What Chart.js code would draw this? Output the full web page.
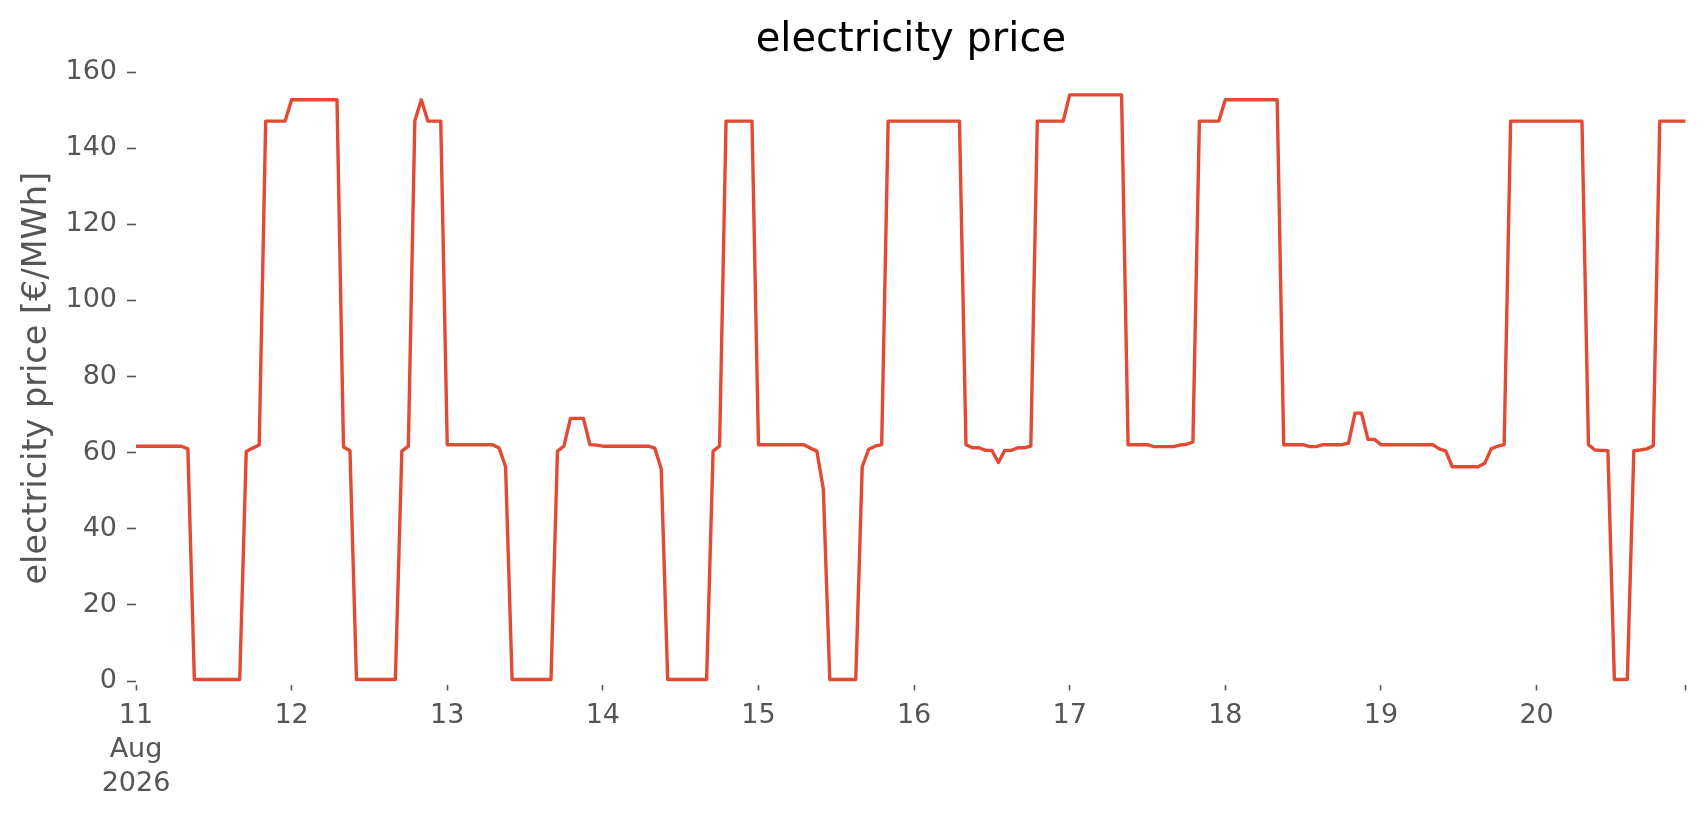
<!DOCTYPE html>
<html>
<head>
<meta charset="utf-8">
<title>electricity price</title>
<script src="https://cdn.jsdelivr.net/npm/chart.js@4.4.1/dist/chart.umd.min.js"></script>
<style>
  html, body { margin: 0; padding: 0; background: #fff; }
  #wrap { width: 1706px; height: 815px; }
</style>
</head>
<body>
<div id="wrap"><canvas id="priceChart"></canvas></div>
<script>
// hourly prices in €/MWh, one array per day (00:00 .. 23:00)
const aug11 = [61.7, 61.7, 61.7, 61.7, 61.7, 61.7, 61.7, 61.7, 61.0, 0.4, 0.4, 0.4, 0.4, 0.4, 0.4, 0.4, 0.4, 60.3, 61.2, 62.0, 147.1, 147.1, 147.1, 147.1];
const aug12 = [152.7, 152.7, 152.7, 152.7, 152.7, 152.7, 152.7, 152.7, 61.5, 60.5, 0.4, 0.4, 0.4, 0.4, 0.4, 0.4, 0.4, 60.4, 61.7, 147.1, 152.7, 147.1, 147.1, 147.1];
const aug13 = [62.1, 62.1, 62.1, 62.1, 62.1, 62.1, 62.1, 62.1, 61.2, 56.3, 0.4, 0.4, 0.4, 0.4, 0.4, 0.4, 0.4, 60.4, 61.7, 69.0, 69.0, 69.0, 62.1, 62.0];
const aug14 = [61.7, 61.7, 61.7, 61.7, 61.7, 61.7, 61.7, 61.7, 61.2, 55.8, 0.4, 0.4, 0.4, 0.4, 0.4, 0.4, 0.4, 60.4, 61.7, 147.1, 147.1, 147.1, 147.1, 147.1];
const aug15 = [62.1, 62.1, 62.1, 62.1, 62.1, 62.1, 62.1, 62.1, 61.2, 60.4, 50.5, 0.4, 0.4, 0.4, 0.4, 0.4, 56.3, 60.9, 61.7, 62.1, 147.1, 147.1, 147.1, 147.1];
const aug16 = [147.1, 147.1, 147.1, 147.1, 147.1, 147.1, 147.1, 147.1, 62.1, 61.3, 61.3, 60.6, 60.6, 57.4, 60.6, 60.6, 61.3, 61.3, 61.7, 147.1, 147.1, 147.1, 147.1, 147.1];
const aug17 = [154.0, 154.0, 154.0, 154.0, 154.0, 154.0, 154.0, 154.0, 154.0, 62.1, 62.1, 62.1, 62.1, 61.6, 61.6, 61.6, 61.6, 62.0, 62.2, 62.8, 147.1, 147.1, 147.1, 147.1];
const aug18 = [152.7, 152.7, 152.7, 152.7, 152.7, 152.7, 152.7, 152.7, 152.7, 62.1, 62.1, 62.1, 62.1, 61.6, 61.6, 62.1, 62.1, 62.1, 62.1, 62.5, 70.4, 70.4, 63.5, 63.5];
const aug19 = [62.1, 62.1, 62.1, 62.1, 62.1, 62.1, 62.1, 62.1, 62.1, 61.0, 60.4, 56.3, 56.3, 56.3, 56.3, 56.3, 57.2, 61.0, 61.7, 62.1, 147.1, 147.1, 147.1, 147.1];
const aug20 = [147.1, 147.1, 147.1, 147.1, 147.1, 147.1, 147.1, 147.1, 62.1, 60.7, 60.6, 60.5, 0.4, 0.4, 0.4, 60.5, 60.7, 61.0, 61.8, 147.1, 147.1, 147.1, 147.1, 147.1];

// tick labels
const days = ['11', '12', '13', '14', '15', '16', '17', '18', '19', '20'];
const monthLabel = 'Aug';
const yearLabel = '2026';
const yTicks = [0, 20, 40, 60, 80, 100, 120, 140, 160];

const prices = [].concat(aug11, aug12, aug13, aug14, aug15, aug16, aug17, aug18, aug19, aug20);
const points = prices.map((v, i) => ({ x: i, y: v }));
const lastHour = prices.length - 1;
const xTickHours = days.map((d, i) => i * 24).concat([lastHour]);

const fontFamily = '"DejaVu Sans", "Liberation Sans", sans-serif';
const grey = '#555555';

const priceChart = new Chart(document.getElementById('priceChart'), {
    type: 'line',
    data: {
        datasets: [{
            label: 'electricity price',
            data: points,
            borderColor: '#E24A33',
            borderWidth: 3.4,
            pointRadius: 0,
            fill: false,
            tension: 0,
            borderJoinStyle: 'round'
        }]
    },
    options: {
        responsive: true,
        maintainAspectRatio: false,
        animation: false,
        layout: { padding: { left: 0, right: 20.3, top: 0, bottom: 0 } },
        plugins: {
            legend: { display: false },
            tooltip: { enabled: false },
            title: {
                display: true,
                fullSize: false, // centre over the plot area, not the canvas
                text: 'electricity price',
                color: '#000000',
                font: { family: fontFamily, size: 40, weight: 'normal', lineHeight: 1.2 },
                padding: { top: 16.2, bottom: 7.8 }
            }
        },
        scales: {
            x: {
                type: 'linear',
                min: 0,
                max: lastHour,
                afterBuildTicks: axis => { axis.ticks = xTickHours.map(v => ({ value: v })); },
                afterFit: axis => { axis.height = 130.5; },
                grid: { display: true, drawOnChartArea: false, drawTicks: true, tickLength: 6, tickWidth: 1.6, tickColor: grey },
                border: { display: false },
                ticks: {
                    autoSkip: false,
                    maxRotation: 0,
                    minRotation: 0,
                    color: grey,
                    padding: 8,
                    font: { family: fontFamily, size: 27, lineHeight: 1.27 },
                    callback: value => {
                        if (value === 0) return [days[0], monthLabel, yearLabel];
                        if (value % 24 === 0) return days[value / 24];
                        return '';
                    }
                }
            },
            y: {
                min: -0.9,
                max: 160,
                afterBuildTicks: axis => { axis.ticks = yTicks.map(v => ({ value: v })); },
                afterFit: axis => { axis.width = 136; },
                grid: { display: true, drawOnChartArea: false, drawTicks: true, tickLength: 9, tickWidth: 1.6, tickColor: grey },
                border: { display: false },
                ticks: {
                    color: grey,
                    padding: 10,
                    font: { family: fontFamily, size: 27 }
                },
                title: {
                    display: true,
                    text: 'electricity price [€/MWh]',
                    color: grey,
                    font: { family: fontFamily, size: 33.5, lineHeight: 1.2 },
                    padding: { top: 17, bottom: 0 }
                }
            }
        }
    }
});
</script>
</body>
</html>
